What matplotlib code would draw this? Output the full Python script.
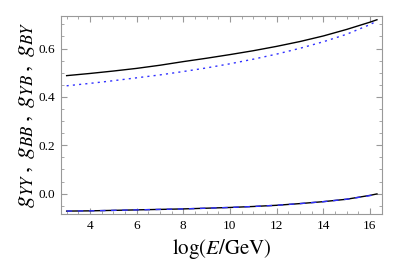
import numpy as np
import matplotlib
matplotlib.use('Agg')
import matplotlib.pyplot as plt
from matplotlib.ticker import MultipleLocator

plt.rcParams['font.family'] = 'Liberation Serif'
plt.rcParams['mathtext.fontset'] = 'stix'

x = [3, 4, 5, 6, 7, 8, 9, 10, 11, 12, 13, 14, 15, 16, 16.3]
g_upper = [0.488, 0.497, 0.507, 0.518, 0.531, 0.546, 0.560, 0.575, 0.591,
           0.609, 0.629, 0.652, 0.679, 0.709, 0.719]
g_upper_dot = [0.446, 0.456, 0.467, 0.479, 0.491, 0.505, 0.520, 0.537, 0.556,
               0.577, 0.601, 0.628, 0.659, 0.699, 0.714]
g_lower = [-0.072, -0.071, -0.069, -0.067, -0.065, -0.063, -0.060, -0.057,
           -0.053, -0.048, -0.041, -0.033, -0.023, -0.007, -0.001]
g_lower_dash = [-0.072, -0.071, -0.069, -0.067, -0.065, -0.063, -0.060, -0.057,
                -0.053, -0.048, -0.041, -0.033, -0.023, -0.008, -0.002]

fig = plt.figure(figsize=(3.99, 2.74), dpi=100)
ax = fig.add_axes([0.153, 0.219, 0.804, 0.723])

ax.plot(x, g_upper, color='black', lw=1.0)
ax.plot(x, g_upper_dot, color='#3030ff', lw=1.0, ls=(0, (1.5, 3)))
ax.plot(x, g_lower, color='black', lw=1.0)
ax.plot(x, g_lower_dash, color='#3030ff', lw=1.0, ls=(0, (4, 4)))

ax.set_xlim(2.76, 16.51)
ax.set_ylim(-0.084, 0.735)
ax.xaxis.set_major_locator(MultipleLocator(2))
ax.xaxis.set_minor_locator(MultipleLocator(0.5))
ax.yaxis.set_major_locator(MultipleLocator(0.2))
ax.yaxis.set_minor_locator(MultipleLocator(0.05))
ax.yaxis.set_major_formatter(plt.FormatStrFormatter('%.1f'))

for s in ax.spines.values():
    s.set_color('#999999')
ax.tick_params(which='both', direction='in', top=True, right=True,
               color='#999999', labelsize=9.5, pad=4)
ax.tick_params(which='major', length=4.5)
ax.tick_params(which='minor', length=2.5)

ax.set_xlabel(r'$\log(E/\mathrm{GeV})$', fontsize=15, labelpad=4)
ax.set_ylabel(r'$g_{YY}\,,\;g_{BB}\,,\;g_{YB}\,,\;g_{BY}$', fontsize=17.5,
              labelpad=1)

fig.savefig('out.png', dpi=100)
